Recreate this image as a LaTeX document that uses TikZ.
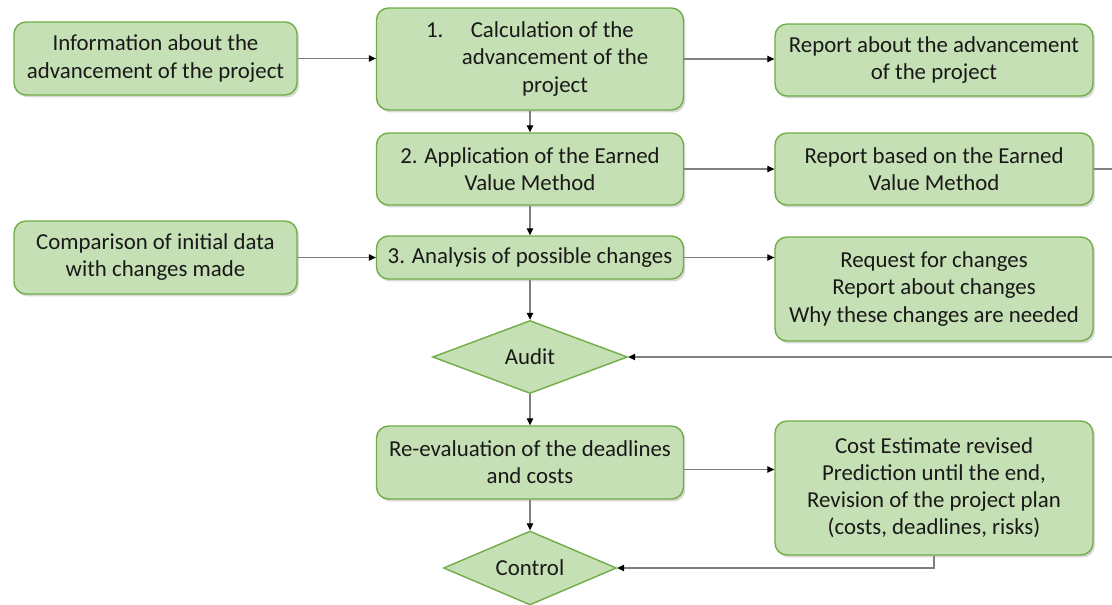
\documentclass[tikz,border=0pt]{standalone}
\usepackage{fontspec}
\setmainfont{Carlito}
\usepackage{xcolor}
\usepackage{tikz}
\usetikzlibrary{shapes,arrows.meta,positioning,calc,shadows}
\definecolor{boxfill}{HTML}{C5E0B4}
\definecolor{boxline}{HTML}{70AD47}
\definecolor{wire}{HTML}{7F7F7F}

\begin{document}
\begin{tikzpicture}[x=0.02cm,y=-0.02cm,
    font=\fontsize{13}{15.4}\selectfont,
    box/.style={draw=boxline,fill=boxfill,line width=0.8pt,rounded corners=0.24cm,
        align=center,inner sep=0pt,text=black!90,
        drop shadow={opacity=0.3,shadow xshift=0.04cm,shadow yshift=-0.05cm}},
    decision/.style={diamond,draw=boxline,fill=boxfill,line width=0.8pt,
        aspect=2.6,inner sep=0pt,text=black!90},
    link/.style={draw=wire,line width=0.6pt,-{Triangle[length=1.4mm,width=1.3mm,color=black]}}]
    \useasboundingbox (0,0) rectangle (1112,605);
    \clip (0,0) rectangle (1112,605);

    % main column
    \node[box,minimum width=6.14cm,minimum height=2.04cm] (calc) at (530,59)
        {1.\hspace{1.2em}Calculation of the\\ \hspace*{2.2em}advancement of the\\ \hspace*{2.2em}project};
    \node[box,minimum width=6.14cm,minimum height=1.44cm] (evm) at (530,169)
        {2. Application of the Earned\\ Value Method};
    \node[box,minimum width=6.14cm,minimum height=0.86cm] (analysis) at (530,257.5)
        {3. Analysis of possible changes};
    \node[decision,minimum width=3.9cm,minimum height=1.46cm] (audit) at (530,357) {Audit};
    \node[box,minimum width=6.14cm,minimum height=1.46cm] (reeval) at (530,462.5)
        {Re-evaluation of the deadlines\\ and costs};
    \node[decision,minimum width=3.46cm,minimum height=1.48cm] (control) at (530,568) {Control};

    % inputs
    \node[box,minimum width=5.66cm,minimum height=1.46cm] (info) at (155.5,58.5)
        {Information about the\\ advancement of the project};
    \node[box,minimum width=5.66cm,minimum height=1.46cm] (compare) at (155.5,257.5)
        {Comparison of initial data\\ with changes made};

    % outputs
    \node[box,minimum width=6.36cm,minimum height=1.44cm] (progrep) at (934,60)
        {Report about the advancement\\ of the project};
    \node[box,minimum width=6.36cm,minimum height=1.44cm] (evmrep) at (934,169)
        {Report based on the Earned\\ Value Method};
    \node[box,minimum width=6.36cm,minimum height=2.08cm] (request) at (934,289)
        {Request for changes\\ Report about changes\\ Why these changes are needed};
    \node[box,minimum width=6.36cm,minimum height=2.68cm] (revised) at (934,488)
        {Cost Estimate revised\\ Prediction until the end,\\ Revision of the project plan\\ (costs, deadlines, risks)};

    \coordinate (loop) at (1125,169);

    % connectors
    \draw[link] (info.east) -- (info.east -| calc.west);
    \draw[link] (calc.east) -- (calc.east -| progrep.west);
    \draw[link] (calc.south) -- (evm.north);
    \draw[link] (evm.east) -- (evmrep.west);
    \draw[link] (evm.south) -- (analysis.north);
    \draw[link] (compare.east) -- (analysis.west);
    \draw[link] (analysis.east) -- (analysis.east -| request.west);
    \draw[link] (analysis.south) -- (audit.north);
    \draw[link] (evmrep.east) -- (loop) |- (audit.east);
    \draw[link] (audit.south) -- (reeval.north);
    \draw[link] ([yshift=-0.14cm]reeval.east) -- ([yshift=-0.14cm]reeval.east -| revised.west);
    \draw[link] (reeval.south) -- (control.north);
    \draw[link] (revised.south) |- (control.east);
\end{tikzpicture}
\end{document}
